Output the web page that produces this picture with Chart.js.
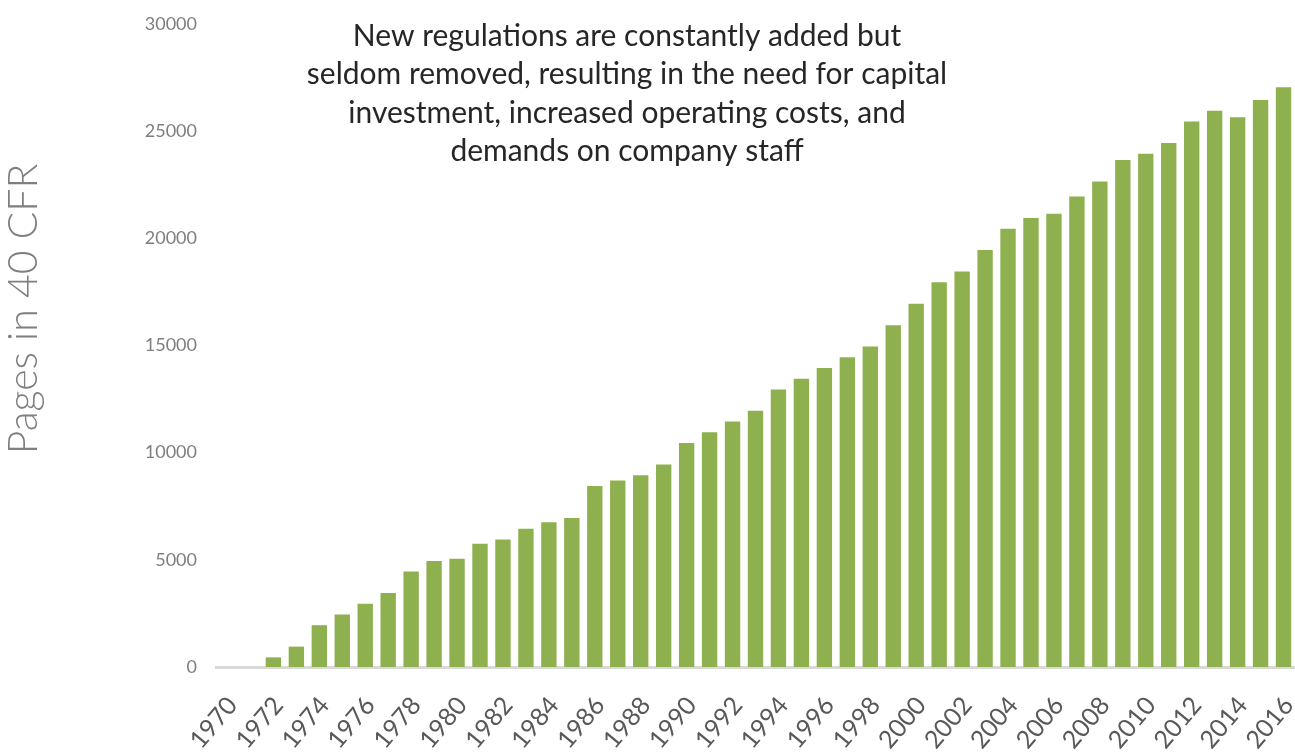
<!DOCTYPE html>
<html>
<head>
<meta charset="utf-8">
<script src="https://cdn.jsdelivr.net/npm/chart.js@4.4.1/dist/chart.umd.min.js"></script>
<style>
  html, body { margin: 0; padding: 0; background: #ffffff; }
  #wrap { width: 1295px; height: 755px; position: relative; }
</style>
</head>
<body>
<div id="wrap"><canvas id="chart"></canvas></div>
<script>
const years = [
  "1970", "1971", "1972", "1973", "1974", "1975", "1976", "1977", "1978", "1979",
  "1980", "1981", "1982", "1983", "1984", "1985", "1986", "1987", "1988", "1989",
  "1990", "1991", "1992", "1993", "1994", "1995", "1996", "1997", "1998", "1999",
  "2000", "2001", "2002", "2003", "2004", "2005", "2006", "2007", "2008", "2009",
  "2010", "2011", "2012", "2013", "2014", "2015", "2016"
];
const pages = [
  0, 0, 450, 950, 1950, 2450, 2950, 3450, 4450, 4950,
  5050, 5750, 5950, 6450, 6750, 6950, 8450, 8700, 8950, 9450,
  10450, 10950, 11450, 11950, 12950, 13450, 13950, 14450, 14950, 15950,
  16950, 17950, 18450, 19450, 20450, 20950, 21150, 21950, 22650, 23650,
  23950, 24450, 25450, 25950, 25650, 26450, 27050
];
const yTicks = [0, 5000, 10000, 15000, 20000, 25000, 30000];
const yTitle = "Pages in 40 CFR";
const noteLines = [
  "New regulations are constantly added but",
  "seldom removed, resulting in the need for capital",
  "investment, increased operating costs, and",
  "demands on company staff"
];

/* Draws the side title and the note over the bars. */
const textPlugin = {
  id: "textPlugin",
  afterDraw(chart) {
    const ctx = chart.ctx;
    ctx.save();
    ctx.fillStyle = "#7f7f7f";
    ctx.font = "300 41px Lato, 'Open Sans', sans-serif";
    ctx.textAlign = "center";
    ctx.textBaseline = "alphabetic";
    ctx.translate(37, 309);
    ctx.rotate(-Math.PI / 2);
    ctx.fillText(yTitle, 0, 0);
    ctx.restore();

    ctx.save();
    ctx.fillStyle = "#262626";
    ctx.font = "30px Lato, 'Open Sans', sans-serif";
    ctx.textAlign = "center";
    ctx.textBaseline = "alphabetic";
    noteLines.forEach((line, i) => {
      ctx.fillText(line, 627, 46 + i * 38.3);
    });
    ctx.restore();
  }
};

new Chart(document.querySelector("#chart"), {
  type: "bar",
  data: {
    labels: years,
    datasets: [{
      label: yTitle,
      data: pages,
      backgroundColor: "#8fb04f",
      borderWidth: 0,
      barPercentage: 0.67,
      categoryPercentage: 1.0
    }]
  },
  options: {
    responsive: true,
    maintainAspectRatio: false,
    animation: false,
    layout: { padding: { top: 24, right: 0, left: 0, bottom: 0 } },
    plugins: {
      legend: { display: false },
      tooltip: { enabled: false }
    },
    scales: {
      x: {
        grid: { display: false },
        border: { color: "#d9d9d9", width: 3 },
        ticks: {
          autoSkip: false,
          maxRotation: 50,
          minRotation: 50,
          padding: 16,
          labelOffset: 5,
          color: "#595959",
          font: { family: "Lato, 'Open Sans', sans-serif", size: 25 },
          callback: (value, index) => (index % 2 === 0 ? years[index] : "")
        },
        afterFit: (scale) => {
          scale.height = 88;
          scale.paddingLeft = 0;
          scale.paddingRight = 0;
          scale.paddingTop = 0;
          scale.paddingBottom = 0;
        }
      },
      y: {
        min: 0,
        max: 30000,
        grid: { display: false, drawTicks: false },
        border: { display: false },
        afterBuildTicks: (scale) => {
          scale.ticks = yTicks.map((v) => ({ value: v }));
        },
        ticks: {
          padding: 19,
          color: "#7f7f7f",
          font: { family: "Lato, 'Open Sans', sans-serif", size: 18 },
          callback: (value) => String(value)
        },
        afterFit: (scale) => {
          scale.width = 216;
          scale.paddingTop = 0;
          scale.paddingBottom = 0;
        }
      }
    }
  },
  plugins: [textPlugin]
});
</script>
</body>
</html>
